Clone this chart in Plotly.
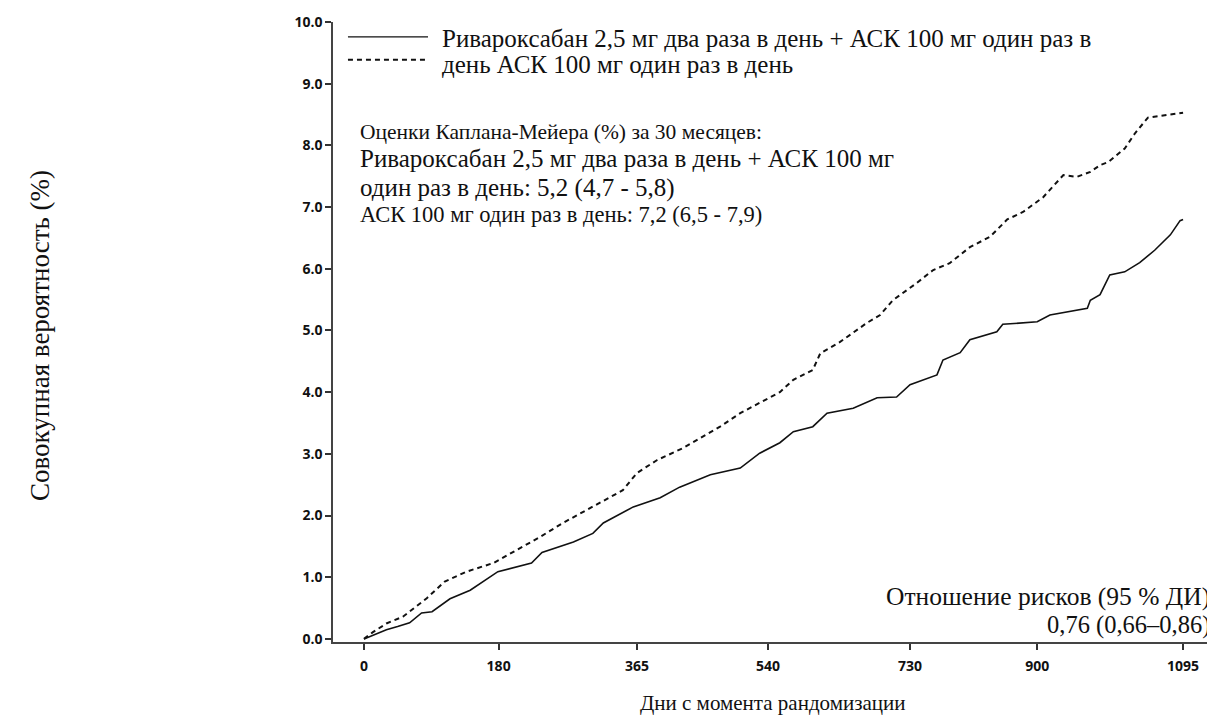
import plotly.graph_objects as go

# Rivaroxaban 2.5 mg bid + ASA (solid)
riva_days = [0, 15, 30, 45, 61, 77, 91, 115, 142, 179, 224, 238, 280, 306, 320, 360, 396,
             422, 463, 503, 529, 556, 574, 600, 619, 654, 686, 712, 730, 766, 774, 797, 810,
             846, 854, 900, 917, 967, 971, 984, 997, 1017, 1037, 1057, 1078, 1091, 1095]
riva_vals = [0.0, 0.08, 0.15, 0.2, 0.26, 0.42, 0.44, 0.65, 0.79, 1.09, 1.23, 1.40, 1.57, 1.71, 1.88, 2.14, 2.29,
             2.46, 2.66, 2.77, 3.01, 3.18, 3.36, 3.44, 3.66, 3.74, 3.91, 3.92, 4.12, 4.28, 4.52, 4.64, 4.85,
             4.98, 5.10, 5.14, 5.25, 5.36, 5.49, 5.58, 5.90, 5.95, 6.10, 6.30, 6.55, 6.78, 6.80]

# ASA 100 mg od (dashed)
asa_days = [0, 12, 30, 52, 84, 108, 137, 173, 204, 235, 266, 306, 346, 365, 392, 426, 476, 503,
            556, 574, 600, 610, 636, 672, 690, 707, 739, 761, 783, 810, 837, 860, 881, 908, 935,
            953, 971, 984, 995, 1017, 1031, 1048, 1095]
asa_vals = [0.0, 0.11, 0.25, 0.36, 0.66, 0.93, 1.09, 1.23, 1.44, 1.65, 1.88, 2.14, 2.41, 2.69, 2.90, 3.09, 3.44, 3.66,
            4.00, 4.20, 4.36, 4.63, 4.81, 5.12, 5.25, 5.49, 5.77, 5.98, 6.09, 6.35, 6.52, 6.80, 6.92, 7.16, 7.52,
            7.49, 7.57, 7.68, 7.73, 7.95, 8.20, 8.45, 8.53]

x_ticks = [0, 180, 365, 540, 730, 900, 1095]
y_ticks = [0, 1, 2, 3, 4, 5, 6, 7, 8, 9, 10]
y_tick_labels = ["0.0", "1.0", "2.0", "3.0", "4.0", "5.0", "6.0", "7.0", "8.0", "9.0", "10.0"]

legend_labels = ["Ривароксабан 2,5 мг два раза в день + АСК 100 мг один раз в",
                 "день АСК 100 мг один раз в день"]
km_lines = ["Оценки Каплана-Мейера (%) за 30 месяцев:",
            "Ривароксабан 2,5 мг два раза в день + АСК 100 мг",
            "один раз в день: 5,2 (4,7 - 5,8)",
            "АСК 100 мг один раз в день: 7,2 (6,5 - 7,9)"]
hr_lines = ["Отношение рисков (95 % ДИ)", "0,76 (0,66–0,86)"]
x_title = "Дни с момента рандомизации"
y_title = "Совокупная вероятность (%)"

SERIF = "Liberation Serif"
SANS = "Open Sans"
TXT = "#111111"

fig = go.Figure()
fig.add_trace(go.Scatter(x=asa_days, y=asa_vals, mode="lines",
                         line=dict(color="#111111", width=2, dash="5px,4px"),
                         showlegend=False, hoverinfo="skip"))
fig.add_trace(go.Scatter(x=riva_days, y=riva_vals, mode="lines",
                         line=dict(color="#111111", width=1.6),
                         showlegend=False, hoverinfo="skip"))

# legend samples
fig.add_shape(type="line", xref="paper", yref="paper", x0=0.017, x1=0.108, y0=0.976, y1=0.976,
              line=dict(color="#111111", width=1.2))
fig.add_shape(type="line", xref="paper", yref="paper", x0=0.017, x1=0.108, y0=0.939, y1=0.939,
              line=dict(color="#111111", width=2, dash="5px,4px"))
for lab, yp in zip(legend_labels, [0.973, 0.932]):
    fig.add_annotation(text=lab, xref="paper", yref="paper", x=0.122, y=yp,
                       xanchor="left", yanchor="middle", showarrow=False,
                       font=dict(family=SERIF, size=25, color=TXT))

km_sizes = [21.5, 25, 25, 22.5]
km_y = [0.822, 0.780, 0.732, 0.689]
for lab, sz, yp in zip(km_lines, km_sizes, km_y):
    fig.add_annotation(text=lab, xref="paper", yref="paper", x=0.028, y=yp,
                       xanchor="left", yanchor="middle", showarrow=False,
                       font=dict(family=SERIF, size=sz, color=TXT))

for lab, sz, yp in zip(hr_lines, [25.5, 24.5], [0.0735, 0.027]):
    fig.add_annotation(text=lab, xref="paper", yref="paper", x=0.999, y=yp,
                       xanchor="right", yanchor="middle", showarrow=False,
                       font=dict(family=SERIF, size=sz, color=TXT))

fig.add_annotation(text=x_title, xref="paper", yref="paper", x=0.5, y=-0.099,
                   xanchor="center", yanchor="middle", showarrow=False,
                   font=dict(family=SERIF, size=21, color=TXT))
fig.add_annotation(text=y_title, xref="paper", yref="paper", x=-0.333, y=0.495,
                   xanchor="center", yanchor="middle", showarrow=False, textangle=-90,
                   font=dict(family=SERIF, size=27, color=TXT))

fig.update_layout(
    width=1207, height=708,
    margin=dict(l=325, r=2, t=14, b=74),
    paper_bgcolor="white", plot_bgcolor="white",
    xaxis=dict(range=[-41.4, 1135], tickvals=x_ticks, ticktext=[str(v) for v in x_ticks],
               showgrid=False, zeroline=False, showline=True, linecolor="#444444", linewidth=1.5,
               ticks="outside", ticklen=6, tickwidth=1.5, tickcolor="#333333", ticklabelstandoff=4,
               tickfont=dict(family=SANS, size=14, color="#111111", weight="bold")),
    yaxis=dict(range=[-0.05, 10.0], tickvals=y_ticks, ticktext=y_tick_labels,
               showgrid=False, zeroline=False, showline=True, linecolor="#444444", linewidth=1.5,
               ticks="outside", ticklen=6, tickwidth=1.5, tickcolor="#333333",
               tickfont=dict(family=SANS, size=14, color="#111111", weight="bold")),
)

fig.write_html("out.html")
